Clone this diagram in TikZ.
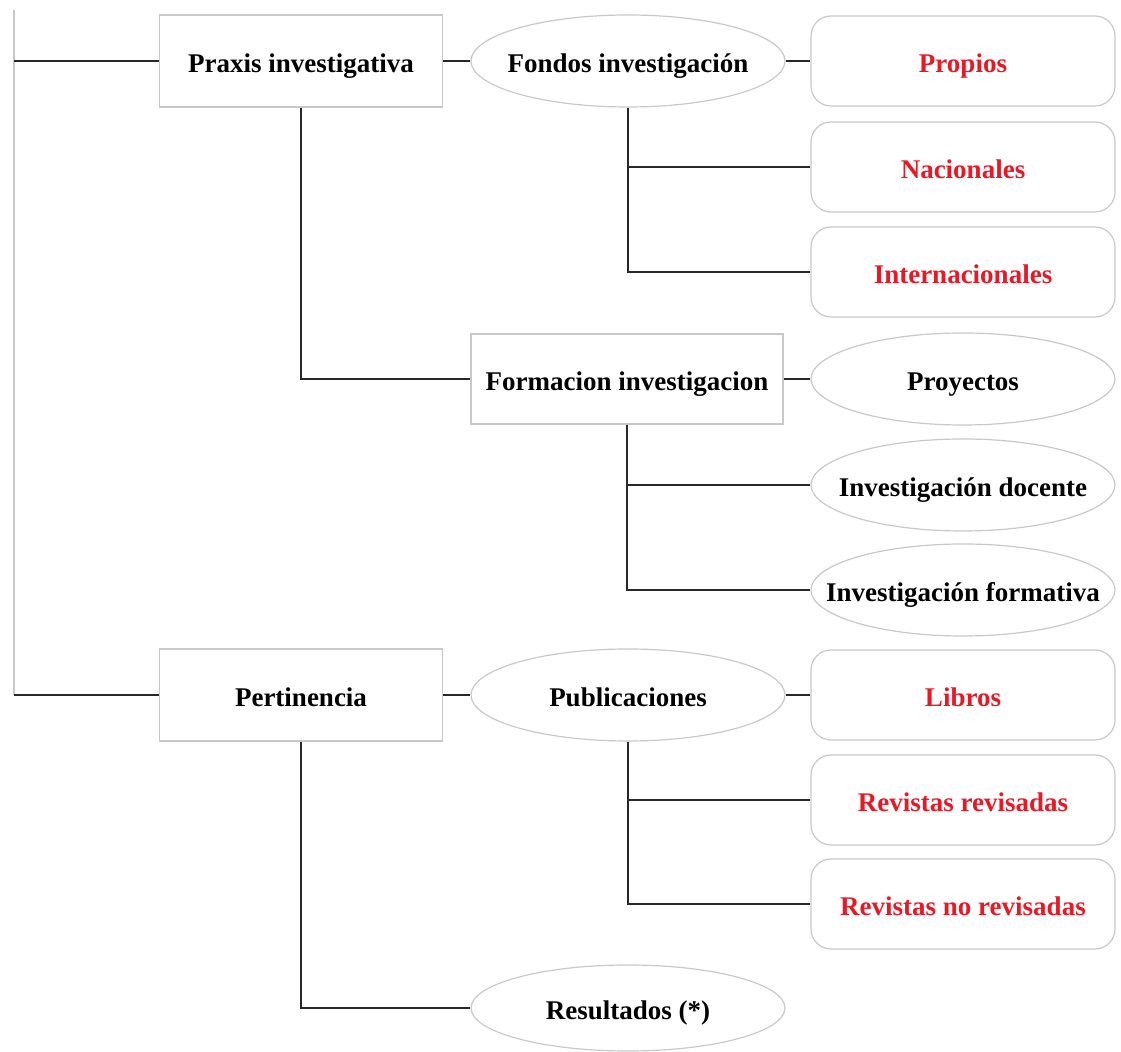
\documentclass[tikz,border=0pt]{standalone}
\usepackage{fontspec}
\setmainfont{Liberation Serif}
\usetikzlibrary{shapes.geometric}
\definecolor{edgegray}{RGB}{200,200,200}
\definecolor{linkdark}{RGB}{40,40,40}
\definecolor{leafred}{RGB}{232,24,36}
\tikzset{
  base/.style={draw=edgegray,line width=0.6pt,font=\fontsize{13.5}{16}\selectfont\bfseries,align=center,inner sep=0pt,text height=12pt,text depth=0pt},
  box/.style={base,rectangle,minimum width=141.5pt,minimum height=46pt},
  wbox/.style={base,rectangle,minimum width=156pt,minimum height=45pt},
  oval/.style={base,ellipse,inner sep=-25pt,minimum width=157pt,minimum height=46pt},
  soval/.style={oval,minimum width=152pt},
  leaf/.style={base,rectangle,rounded corners=10pt,minimum width=152pt,minimum height=45pt,text=leafred},
  link/.style={draw=linkdark,line width=0.9pt}
}
\begin{document}
\begin{tikzpicture}[x=0.5pt,y=-0.5pt]
\useasboundingbox (0,0) rectangle (1121,1052);
\node[box] (praxis) at (301,61) {Praxis investigativa};
\node[box] (pert) at (301,695) {Pertinencia};
\node[oval] (fondos) at (628,61) {Fondos investigación};
\node[wbox] (formacion) at (627,379) {Formacion investigacion};
\node[oval] (publ) at (628,695) {Publicaciones};
\node[oval,minimum height=43pt] (result) at (628,1008) {Resultados (*)};
\node[leaf] (propios) at (963,61) {Propios};
\node[leaf] (nacion) at (963,167) {Nacionales};
\node[leaf] (internac) at (963,272) {Internacionales};
\node[soval] (proyec) at (963,379) {Proyectos};
\node[soval] (docente) at (963,485) {Investigación docente};
\node[soval] (formativa) at (963,590) {Investigación formativa};
\node[leaf] (libros) at (963,695) {Libros};
\node[leaf] (revrev) at (963,800) {Revistas revisadas};
\node[leaf] (revnorev) at (963,904) {Revistas no revisadas};
\coordinate (top) at (14,10);
\draw[draw=edgegray,line width=0.8pt] (top) -- (top |- pert.west);
\draw[link] (top |- praxis.west) -- (praxis.west);
\draw[link] (top |- pert.west) -- (pert.west);
\draw[link] (praxis.east) -- (fondos.west);
\draw[link] (fondos.east) -- (propios.west);
\draw[link] (fondos.south) |- (nacion.west);
\draw[link] (fondos.south) |- (internac.west);
\draw[link] (praxis.south) |- (formacion.west);
\draw[link] (formacion.east) -- (proyec.west);
\draw[link] (formacion.south) |- (docente.west);
\draw[link] (formacion.south) |- (formativa.west);
\draw[link] (pert.east) -- (publ.west);
\draw[link] (publ.east) -- (libros.west);
\draw[link] (publ.south) |- (revrev.west);
\draw[link] (publ.south) |- (revnorev.west);
\draw[link] (pert.south) |- (result.west);
\end{tikzpicture}
\end{document}
